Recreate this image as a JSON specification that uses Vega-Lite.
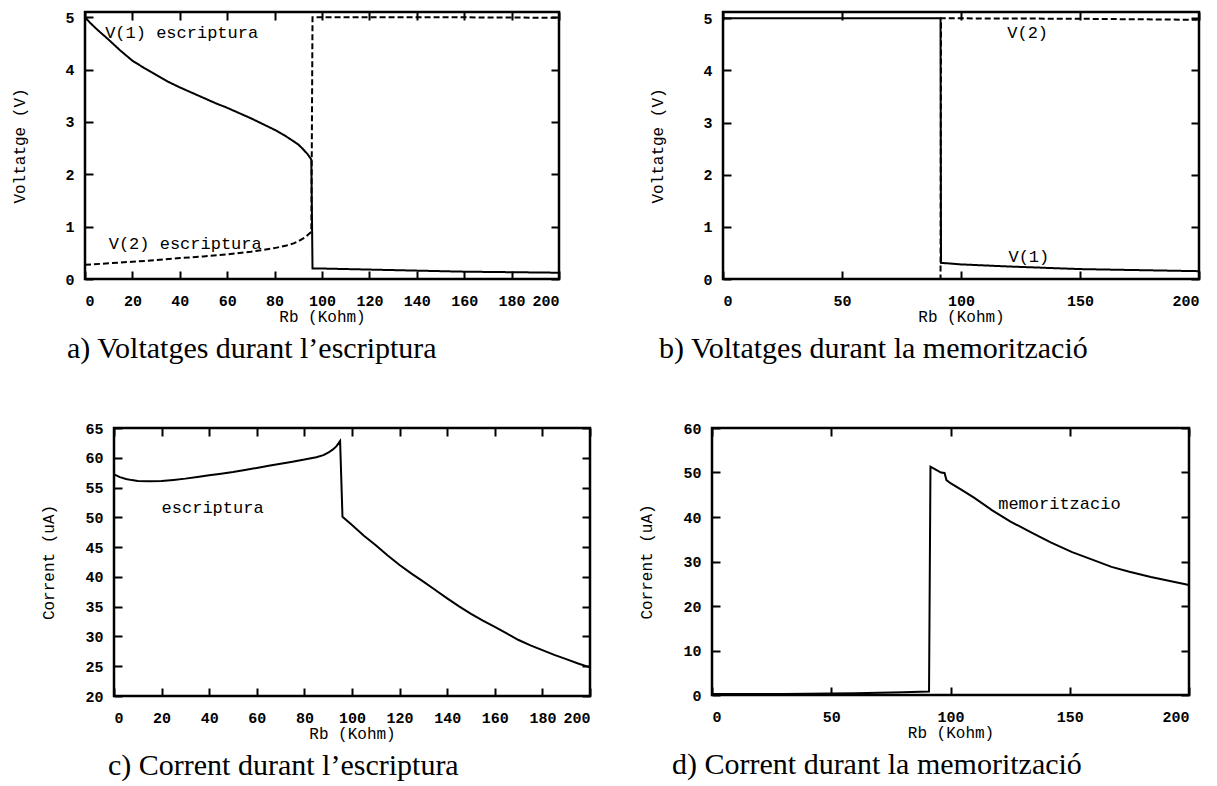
{
  "$schema": "https://vega.github.io/schema/vega-lite/v6.json",
  "padding": {"left": 8, "top": 8, "right": 5, "bottom": 5},
  "background": "white",
  "datasets": {
    "a": [
      {"x": 0, "y": 5.0, "s": "V(1)"}, {"x": 2, "y": 4.9, "s": "V(1)"}, {"x": 5, "y": 4.77, "s": "V(1)"},
      {"x": 10, "y": 4.57, "s": "V(1)"}, {"x": 15, "y": 4.36, "s": "V(1)"}, {"x": 20, "y": 4.17, "s": "V(1)"},
      {"x": 25, "y": 4.03, "s": "V(1)"}, {"x": 30, "y": 3.9, "s": "V(1)"}, {"x": 35, "y": 3.77, "s": "V(1)"},
      {"x": 40, "y": 3.66, "s": "V(1)"}, {"x": 45, "y": 3.56, "s": "V(1)"}, {"x": 50, "y": 3.46, "s": "V(1)"},
      {"x": 55, "y": 3.36, "s": "V(1)"}, {"x": 60, "y": 3.27, "s": "V(1)"}, {"x": 65, "y": 3.17, "s": "V(1)"},
      {"x": 70, "y": 3.07, "s": "V(1)"}, {"x": 75, "y": 2.96, "s": "V(1)"}, {"x": 80, "y": 2.85, "s": "V(1)"},
      {"x": 85, "y": 2.72, "s": "V(1)"}, {"x": 90, "y": 2.57, "s": "V(1)"}, {"x": 92, "y": 2.48, "s": "V(1)"},
      {"x": 94, "y": 2.38, "s": "V(1)"}, {"x": 95.5, "y": 2.28, "s": "V(1)"}, {"x": 96, "y": 0.2, "s": "V(1)"},
      {"x": 100, "y": 0.2, "s": "V(1)"}, {"x": 120, "y": 0.18, "s": "V(1)"}, {"x": 140, "y": 0.16, "s": "V(1)"},
      {"x": 160, "y": 0.14, "s": "V(1)"}, {"x": 180, "y": 0.13, "s": "V(1)"}, {"x": 200, "y": 0.12, "s": "V(1)"},
      {"x": 0, "y": 0.27, "s": "V(2)"}, {"x": 10, "y": 0.3, "s": "V(2)"}, {"x": 20, "y": 0.33, "s": "V(2)"},
      {"x": 30, "y": 0.36, "s": "V(2)"}, {"x": 40, "y": 0.4, "s": "V(2)"}, {"x": 50, "y": 0.43, "s": "V(2)"},
      {"x": 60, "y": 0.47, "s": "V(2)"}, {"x": 70, "y": 0.52, "s": "V(2)"}, {"x": 75, "y": 0.555, "s": "V(2)"},
      {"x": 80, "y": 0.59, "s": "V(2)"}, {"x": 85, "y": 0.64, "s": "V(2)"}, {"x": 88, "y": 0.68, "s": "V(2)"},
      {"x": 90, "y": 0.72, "s": "V(2)"}, {"x": 93, "y": 0.8, "s": "V(2)"},
      {"x": 95.5, "y": 0.9, "s": "V(2)"}, {"x": 96, "y": 5.0, "s": "V(2)"}, {"x": 100, "y": 5.0, "s": "V(2)"},
      {"x": 150, "y": 5.0, "s": "V(2)"}, {"x": 200, "y": 4.99, "s": "V(2)"}
    ],
    "la": [
      {"x": 8.5, "y": 4.7, "t": "V(1) escriptura"},
      {"x": 10, "y": 0.67, "t": "V(2) escriptura"}
    ],
    "b": [
      {"x": 0, "y": 5.0, "s": "V(1)"}, {"x": 91.4, "y": 5.0, "s": "V(1)"}, {"x": 91.6, "y": 0.31, "s": "V(1)"},
      {"x": 100, "y": 0.28, "s": "V(1)"}, {"x": 120, "y": 0.24, "s": "V(1)"}, {"x": 150, "y": 0.19, "s": "V(1)"},
      {"x": 175, "y": 0.17, "s": "V(1)"}, {"x": 200, "y": 0.15, "s": "V(1)"},
      {"x": 0, "y": 0.0, "s": "V(2)"}, {"x": 91.4, "y": 0.0, "s": "V(2)"}, {"x": 91.6, "y": 5.0, "s": "V(2)"},
      {"x": 150, "y": 4.99, "s": "V(2)"}, {"x": 200, "y": 4.97, "s": "V(2)"}
    ],
    "lb": [
      {"x": 128, "y": 4.72, "t": "V(2)"},
      {"x": 128.5, "y": 0.42, "t": "V(1)"}
    ],
    "c": [
      {"x": 0, "y": 57.2}, {"x": 2.5, "y": 56.75}, {"x": 5, "y": 56.45}, {"x": 7.5, "y": 56.25}, {"x": 10, "y": 56.12},
      {"x": 15, "y": 56.05}, {"x": 20, "y": 56.1}, {"x": 25, "y": 56.28},
      {"x": 30, "y": 56.5}, {"x": 35, "y": 56.78}, {"x": 40, "y": 57.05}, {"x": 45, "y": 57.32}, {"x": 50, "y": 57.6},
      {"x": 55, "y": 57.95}, {"x": 60, "y": 58.3}, {"x": 65, "y": 58.65}, {"x": 70, "y": 59.0}, {"x": 75, "y": 59.35},
      {"x": 80, "y": 59.7}, {"x": 85, "y": 60.1}, {"x": 88, "y": 60.45}, {"x": 90, "y": 60.85}, {"x": 92, "y": 61.4},
      {"x": 93.5, "y": 61.95}, {"x": 95, "y": 62.8},
      {"x": 96, "y": 50.1}, {"x": 100, "y": 48.7}, {"x": 105, "y": 46.9}, {"x": 110, "y": 45.3}, {"x": 115, "y": 43.6},
      {"x": 120, "y": 42.0}, {"x": 125, "y": 40.55}, {"x": 130, "y": 39.2},
      {"x": 135, "y": 37.8}, {"x": 140, "y": 36.4}, {"x": 145, "y": 35.05}, {"x": 150, "y": 33.8}, {"x": 155, "y": 32.65},
      {"x": 160, "y": 31.6}, {"x": 165, "y": 30.5}, {"x": 170, "y": 29.4}, {"x": 175, "y": 28.5}, {"x": 180, "y": 27.7},
      {"x": 185, "y": 26.9}, {"x": 190, "y": 26.2}, {"x": 195, "y": 25.45}, {"x": 200, "y": 24.8}
    ],
    "lc": [{"x": 20, "y": 51.6, "t": "escriptura"}],
    "d": [
      {"x": 0, "y": 0.2}, {"x": 30, "y": 0.25}, {"x": 60, "y": 0.4}, {"x": 80, "y": 0.6}, {"x": 91, "y": 0.8},
      {"x": 91.6, "y": 51.3}, {"x": 94, "y": 50.6}, {"x": 96, "y": 50.0}, {"x": 97.5, "y": 49.9}, {"x": 98.3, "y": 48.3},
      {"x": 100, "y": 47.6}, {"x": 105, "y": 46.0}, {"x": 110, "y": 44.3}, {"x": 117.5, "y": 41.5}, {"x": 125, "y": 39.0},
      {"x": 134, "y": 36.5}, {"x": 142, "y": 34.3}, {"x": 151, "y": 32.1}, {"x": 160, "y": 30.3}, {"x": 167.5, "y": 28.8},
      {"x": 175, "y": 27.7}, {"x": 184, "y": 26.5}, {"x": 192, "y": 25.6}, {"x": 200, "y": 24.7}
    ],
    "ld": [{"x": 120, "y": 42.9, "t": "memoritzacio"}]
  },
  "vconcat": [
    {
      "hconcat": [
        {
          "hconcat": [
            {"width": 1, "height": 1, "data": {"values": []}, "mark": "point", "view": {"stroke": null}},
            {
              "width": 474, "height": 267,
              "title": {"text": "a) Voltatges durant l’escriptura", "orient": "bottom", "anchor": "start", "frame": "group", "dx": -18, "offset": 10},
              "layer": [
                {
                  "data": {"name": "a"},
                  "mark": {"type": "line", "color": "black", "strokeWidth": 2},
                  "encoding": {
                    "x": {"field": "x", "type": "quantitative", "scale": {"domain": [0, 200], "nice": false}, "axis": {"title": "Rb (Kohm)", "values": [0,20,40,60,80,100,120,140,160,180,200]}},
                    "y": {"field": "y", "type": "quantitative", "scale": {"domain": [0, 5.1], "nice": false}, "axis": {"title": "Voltatge (V)", "values": [0,1,2,3,4,5]}},
                    "strokeDash": {"field": "s", "type": "nominal", "scale": {"domain": ["V(1)", "V(2)"], "range": [[1, 0], [6, 3]]}, "legend": null}
                  }
                },
                {
                  "data": {"name": "la"},
                  "mark": {"type": "text", "align": "left", "baseline": "middle", "font": "Liberation Mono", "fontSize": 17, "color": "black"},
                  "encoding": {
                    "x": {"field": "x", "type": "quantitative", "axis": {"orient": "top", "labels": false, "title": null, "values": [0,20,40,60,80,100,120,140,160,180,200]}},
                    "y": {"field": "y", "type": "quantitative", "axis": {"orient": "right", "labels": false, "title": null, "values": [0,1,2,3,4,5]}},
                    "text": {"field": "t"}
                  }
                }
              ],
              "resolve": {"axis": {"x": "independent", "y": "independent"}}
            }
          ],
          "spacing": 0
        },
        {
          "width": 476, "height": 267,
          "title": {"text": "b) Voltatges durant la memorització", "orient": "bottom", "anchor": "start", "frame": "group", "dx": -64, "offset": 10},
          "layer": [
            {
              "data": {"name": "b"},
              "mark": {"type": "line", "color": "black", "strokeWidth": 2},
              "encoding": {
                "x": {"field": "x", "type": "quantitative", "scale": {"domain": [0, 200], "nice": false}, "axis": {"title": "Rb (Kohm)", "values": [0,50,100,150,200]}},
                "y": {"field": "y", "type": "quantitative", "scale": {"domain": [0, 5.12], "nice": false}, "axis": {"title": "Voltatge (V)", "values": [0,1,2,3,4,5]}},
                "strokeDash": {"field": "s", "type": "nominal", "scale": {"domain": ["V(1)", "V(2)"], "range": [[1, 0], [6, 3]]}, "legend": null}
              }
            },
            {
              "data": {"name": "lb"},
              "mark": {"type": "text", "align": "center", "baseline": "middle", "font": "Liberation Mono", "fontSize": 17, "color": "black"},
              "encoding": {
                "x": {"field": "x", "type": "quantitative", "axis": {"orient": "top", "labels": false, "title": null, "values": [0,50,100,150,200]}},
                "y": {"field": "y", "type": "quantitative", "axis": {"orient": "right", "labels": false, "title": null, "values": [0,1,2,3,4,5]}},
                "text": {"field": "t"}
              }
            }
          ],
          "resolve": {"axis": {"x": "independent", "y": "independent"}}
        }
      ],
      "spacing": 82
    },
    {
      "hconcat": [
        {
          "hconcat": [
            {"width": 30, "height": 1, "data": {"values": []}, "mark": "point", "view": {"stroke": null}},
            {
              "width": 476, "height": 268,
              "title": {"text": "c) Corrent durant l’escriptura", "orient": "bottom", "anchor": "start", "frame": "group", "dx": -6, "offset": 10},
              "layer": [
                {
                  "data": {"name": "c"},
                  "mark": {"type": "line", "color": "black", "strokeWidth": 2},
                  "encoding": {
                    "x": {"field": "x", "type": "quantitative", "scale": {"domain": [0, 200], "nice": false}, "axis": {"title": "Rb (Kohm)", "values": [0,20,40,60,80,100,120,140,160,180,200]}},
                    "y": {"field": "y", "type": "quantitative", "scale": {"domain": [20, 65], "nice": false, "zero": false}, "axis": {"title": "Corrent (uA)", "values": [20,25,30,35,40,45,50,55,60,65]}}
                  }
                },
                {
                  "data": {"name": "lc"},
                  "mark": {"type": "text", "align": "left", "baseline": "middle", "font": "Liberation Mono", "fontSize": 17, "color": "black"},
                  "encoding": {
                    "x": {"field": "x", "type": "quantitative", "axis": {"orient": "top", "labels": false, "title": null, "values": [0,20,40,60,80,100,120,140,160,180,200]}},
                    "y": {"field": "y", "type": "quantitative", "axis": {"orient": "right", "labels": false, "title": null, "values": [20,25,30,35,40,45,50,55,60,65]}},
                    "text": {"field": "t"}
                  }
                }
              ],
              "resolve": {"axis": {"x": "independent", "y": "independent"}}
            }
          ],
          "spacing": 0
        },
        {
          "width": 477, "height": 267,
          "title": {"text": "d) Corrent durant la memorització", "orient": "bottom", "anchor": "start", "frame": "group", "dx": -40, "offset": 10},
          "layer": [
            {
              "data": {"name": "d"},
              "mark": {"type": "line", "color": "black", "strokeWidth": 2},
              "encoding": {
                "x": {"field": "x", "type": "quantitative", "scale": {"domain": [0, 200], "nice": false}, "axis": {"title": "Rb (Kohm)", "values": [0,50,100,150,200]}},
                "y": {"field": "y", "type": "quantitative", "scale": {"domain": [0, 60], "nice": false}, "axis": {"title": "Corrent (uA)", "values": [0,10,20,30,40,50,60]}}
              }
            },
            {
              "data": {"name": "ld"},
              "mark": {"type": "text", "align": "left", "baseline": "middle", "font": "Liberation Mono", "fontSize": 17, "color": "black"},
              "encoding": {
                "x": {"field": "x", "type": "quantitative", "axis": {"orient": "top", "labels": false, "title": null, "values": [0,50,100,150,200]}},
                "y": {"field": "y", "type": "quantitative", "axis": {"orient": "right", "labels": false, "title": null, "values": [0,10,20,30,40,50,60]}},
                "text": {"field": "t"}
              }
            }
          ],
          "resolve": {"axis": {"x": "independent", "y": "independent"}}
        }
      ],
      "spacing": 40
    }
  ],
  "spacing": 53,
  "config": {
    "view": {"stroke": "black", "strokeWidth": 2.5},
    "axis": {
      "domain": false, "grid": false,
      "ticks": true, "tickColor": "black", "tickWidth": 2, "tickSize": -8,
      "labelFont": "Liberation Mono", "labelFontSize": 15, "labelFontWeight": "bold", "labelColor": "black",
      "titleFont": "Liberation Mono", "titleFontSize": 16, "titleFontWeight": "normal", "titleColor": "black"
    },
    "axisX": {"labelPadding": 22, "titlePadding": 0},
    "axisY": {"labelPadding": 19, "titleX": -58},
    "title": {"font": "Liberation Serif", "fontSize": 30, "fontWeight": "normal", "color": "black"}
  }
}
